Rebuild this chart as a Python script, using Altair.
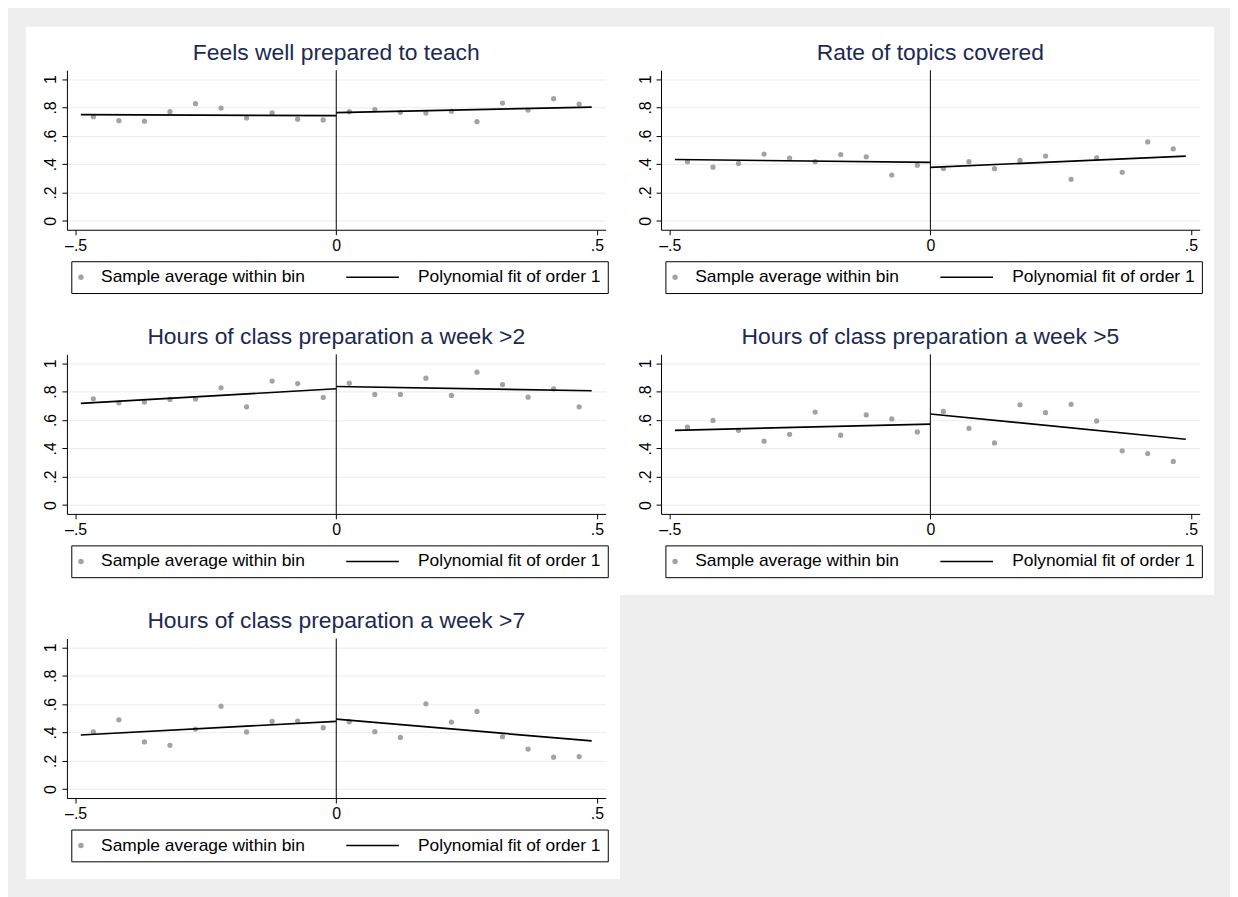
import json
import altair as alt
import pandas as pd

# ---------------- data ----------------
titles = [
    "Feels well prepared to teach",
    "Rate of topics covered",
    "Hours of class preparation a week >2",
    "Hours of class preparation a week >5",
    "Hours of class preparation a week >7",
]

bin_x_left = [-0.466, -0.417, -0.368, -0.319, -0.270, -0.221, -0.172, -0.123, -0.074, -0.025]
bin_x_right = [0.025, 0.074, 0.123, 0.172, 0.221, 0.270, 0.319, 0.368, 0.417, 0.466]
fit_x_left = [-0.49, 0.0]
fit_x_right = [0.0, 0.49]

p1_left = [0.735, 0.707, 0.703, 0.770, 0.827, 0.796, 0.726, 0.761, 0.717, 0.712]
p1_right = [0.770, 0.785, 0.766, 0.761, 0.773, 0.700, 0.831, 0.782, 0.862, 0.824]
p1_fit_left = [0.749, 0.742]
p1_fit_right = [0.763, 0.803]

p2_left = [0.417, 0.379, 0.405, 0.471, 0.443, 0.417, 0.468, 0.452, 0.323, 0.393]
p2_right = [0.370, 0.417, 0.368, 0.426, 0.457, 0.293, 0.445, 0.342, 0.557, 0.508]
p2_fit_left = [0.433, 0.412]
p2_fit_right = [0.377, 0.457]

p3_left = [0.749, 0.721, 0.726, 0.745, 0.747, 0.827, 0.693, 0.874, 0.857, 0.759]
p3_right = [0.859, 0.780, 0.780, 0.895, 0.773, 0.937, 0.850, 0.761, 0.820, 0.693]
p3_fit_left = [0.717, 0.820]
p3_fit_right = [0.836, 0.806]

p4_left = [0.550, 0.597, 0.527, 0.450, 0.499, 0.656, 0.492, 0.635, 0.607, 0.515]
p4_right = [0.660, 0.541, 0.438, 0.707, 0.651, 0.710, 0.593, 0.382, 0.363, 0.307]
p4_fit_left = [0.527, 0.571]
p4_fit_right = [0.642, 0.464]

p5_left = [0.403, 0.489, 0.333, 0.309, 0.424, 0.585, 0.403, 0.478, 0.480, 0.433]
p5_right = [0.475, 0.405, 0.365, 0.602, 0.473, 0.548, 0.370, 0.283, 0.225, 0.230]
p5_fit_left = [0.382, 0.478]
p5_fit_right = [0.494, 0.340]

cutoff = 0.0
x_tick_values = [-0.5, 0, 0.5]
x_tick_labels = ["\u2013.5", "0", ".5"]
y_tick_values = [0, 0.2, 0.4, 0.6, 0.8, 1]
y_tick_labels = ["0", ".2", ".4", ".6", ".8", "1"]

LAB_PTS = "Sample average within bin"
LAB_FIT = "Polynomial fit of order 1"
legend_domain = [LAB_PTS, LAB_FIT]

# ---------------- styling / layout ----------------
FONT = "Liberation Sans"
PANEL_W, PANEL_H = 598, 286
X_DOMAIN = [-0.5167, 0.5167]
X_RANGE = [41.3, 583.5]
Y_DOMAIN = [-0.063, 1.063]
Y_RANGE = [204.3, 43.7]
DOT = "#a3a3a3"
GRID = "#e6eef0"
TITLE_COLOR = "#1c2a52"
LINE_PATH = "M-26,0H0.5"

x_expr = f"{json.dumps(x_tick_labels, ensure_ascii=False)}[indexof({json.dumps(x_tick_values)}, datum.value)]"
y_expr = f"{json.dumps(y_tick_labels)}[indexof({json.dumps(y_tick_values)}, datum.value)]"


def axes():
    xsc = alt.Scale(domain=X_DOMAIN, range=X_RANGE, nice=False, zero=False)
    ysc = alt.Scale(domain=Y_DOMAIN, range=Y_RANGE, nice=False, zero=False)
    xax = alt.Axis(values=x_tick_values, labelExpr=x_expr, offset=-(PANEL_H - Y_RANGE[0]),
                   grid=False, tickSize=5, tickColor="black", domainColor="black",
                   labelFont=FONT, labelFontSize=16, labelColor="black", labelPadding=3,
                   title=None)
    yax = alt.Axis(values=y_tick_values, labelExpr=y_expr, offset=-X_RANGE[0],
                   grid=True, gridColor=GRID, gridWidth=1, tickSize=5, tickColor="black",
                   domainColor="black", labelFont=FONT, labelFontSize=16, labelColor="black",
                   labelAngle=270, labelAlign="center", labelBaseline="bottom", labelPadding=3,
                   title=None)
    return xsc, ysc, xax, yax


def panel(title, yl, yr, fl, fr):
    xsc, ysc, xax, yax = axes()
    pts = pd.DataFrame({"x": bin_x_left + bin_x_right, "y": yl + yr, "series": LAB_PTS})
    fit = pd.DataFrame({"x": fit_x_left + fit_x_right, "y": fl + fr,
                        "side": ["left"] * len(fit_x_left) + ["right"] * len(fit_x_right)})
    cut = pd.DataFrame({"x": [cutoff], "y": [Y_DOMAIN[1]], "y2": [Y_DOMAIN[0]]})
    ttl = pd.DataFrame({"t": [title]})

    leg = alt.Legend(title=None, orient="none", legendX=45.7, legendY=236,
                     direction="horizontal", columns=2, columnPadding=37, padding=7,
                     strokeColor="black", fillColor="white", labelFont=FONT,
                     labelFontSize=17.5, labelColor="black", labelLimit=0, labelOffset=11.5,
                     symbolOffset=-6, symbolSize=16, symbolStrokeWidth=1.5)
    X = alt.X("x:Q", scale=xsc, axis=xax)
    Y = alt.Y("y:Q", scale=ysc, axis=yax)

    rule = alt.Chart(cut).mark_rule(color="black", strokeWidth=1).encode(
        x=X, y=Y, y2="y2:Q")
    points = alt.Chart(pts).mark_point(filled=True, size=16, opacity=1, strokeWidth=1.3).encode(
        x=X, y=Y,
        fill=alt.Fill("series:N", scale=alt.Scale(domain=legend_domain, range=[DOT, "black"]), legend=leg),
        stroke=alt.Stroke("series:N", scale=alt.Scale(domain=legend_domain, range=[DOT, "black"]), legend=leg),
        shape=alt.Shape("series:N", scale=alt.Scale(domain=legend_domain, range=["circle", LINE_PATH]), legend=leg),
    )
    lines = alt.Chart(fit).mark_line(color="black", strokeWidth=1.7).encode(
        x=X, y=Y, detail="side:N")
    head = alt.Chart(ttl).mark_text(font=FONT, fontSize=23, color=TITLE_COLOR,
                                    align="center", baseline="alphabetic").encode(
        text="t:N", x=alt.value((X_RANGE[0] + X_RANGE[1]) / 2), y=alt.value(33))

    return alt.layer(rule, points, lines, head).properties(width=PANEL_W, height=PANEL_H)


p1 = panel(titles[0], p1_left, p1_right, p1_fit_left, p1_fit_right)
p2 = panel(titles[1], p2_left, p2_right, p2_fit_left, p2_fit_right)
p3 = panel(titles[2], p3_left, p3_right, p3_fit_left, p3_fit_right)
p4 = panel(titles[3], p4_left, p4_right, p4_fit_left, p4_fit_right)
p5 = panel(titles[4], p5_left, p5_right, p5_fit_left, p5_fit_right)

indep = dict(fill="independent", stroke="independent", shape="independent")
row1 = alt.hconcat(p1, p2, spacing=0).resolve_scale(**indep)
row2 = alt.hconcat(p3, p4, spacing=0).resolve_scale(**indep)

chart = alt.vconcat(row1, row2, p5, spacing=0).resolve_scale(**indep).properties(
    background="#eeeeee",
    padding={"left": 18, "top": 16, "right": 16, "bottom": 15},
).configure_view(fill="white", strokeWidth=0)

chart.save("out.html", embed_options={"renderer": "svg", "actions": False})
